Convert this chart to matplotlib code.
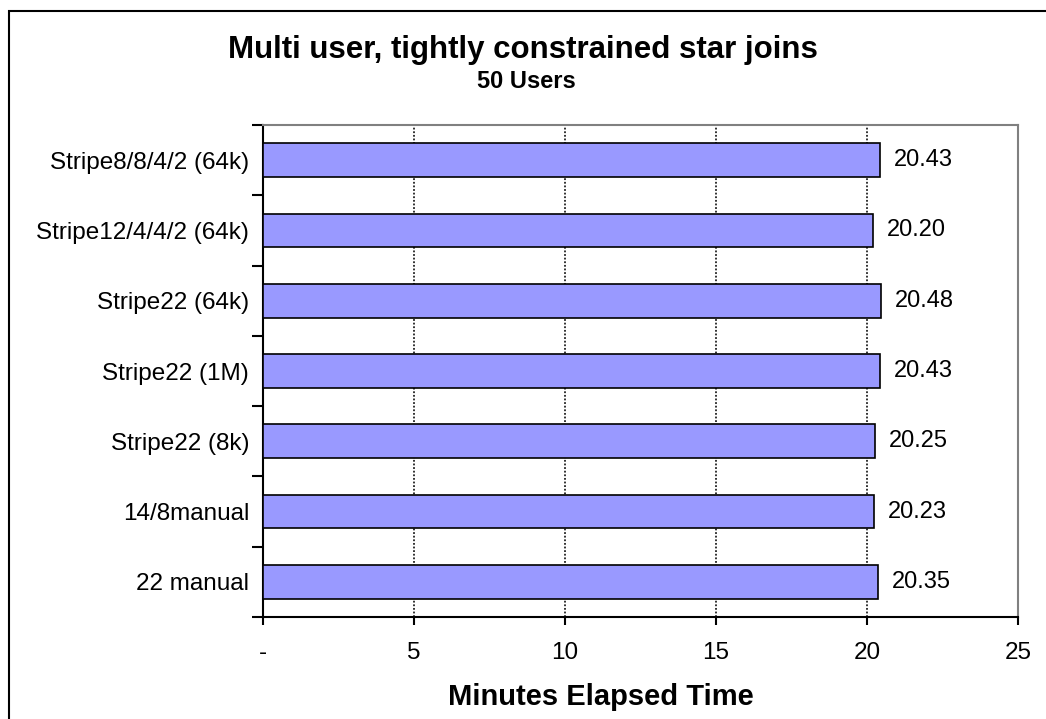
import matplotlib.pyplot as plt
from matplotlib.patches import Rectangle
import numpy as np

plt.rcParams['font.family'] = ['Liberation Sans', 'DejaVu Sans']

# data, top to bottom as in the chart
labels = ['Stripe8/8/4/2 (64k)', 'Stripe12/4/4/2 (64k)', 'Stripe22 (64k)',
          'Stripe22 (1M)', 'Stripe22 (8k)', '14/8manual', '22 manual']
minutes = [20.43, 20.20, 20.48, 20.43, 20.25, 20.23, 20.35]
xticks = [0, 5, 10, 15, 20, 25]
xtick_labels = ['-', '5', '10', '15', '20', '25']

fig = plt.figure(figsize=(10.46, 7.19), dpi=100)
ax = fig.add_axes([0.2514, 0.1419, 0.7218, 0.6842])

ypos = np.arange(len(labels))[::-1]
ax.barh(ypos, minutes, height=0.48, color='#9999ff', edgecolor='black',
        linewidth=1.2, zorder=3)
for y, v in zip(ypos, minutes):
    ax.annotate(f'{v:.2f}', (v, y), xytext=(10, 0), textcoords='offset points',
                va='center', ha='left', fontsize=17)

ax.set_xlim(0, 25)
ax.set_ylim(-0.5, len(labels) - 0.5)

ax.set_xticks(xticks)
ax.set_xticklabels(xtick_labels, fontsize=17.5)
ax.tick_params(axis='x', length=6, width=1.5, pad=12, direction='out')
ax.grid(axis='x', color='#222222', linestyle=(0, (1, 1)), linewidth=1.3, zorder=0)

ax.set_yticks(ypos)
ax.set_yticklabels(labels, fontsize=17.5)
ax.tick_params(axis='y', which='major', length=0, pad=10)
ax.set_yticks(np.arange(len(labels) + 1) - 0.5, minor=True)
ax.tick_params(axis='y', which='minor', length=8, width=1.5, direction='out')

for side in ['left', 'bottom']:
    ax.spines[side].set_color('black')
    ax.spines[side].set_linewidth(1.5)
for side in ['top', 'right']:
    ax.spines[side].set_color('#808080')
    ax.spines[side].set_linewidth(1.5)

fig.text(0.5746, 1 - 705 / 719, 'Minutes Elapsed Time', ha='center',
         va='baseline', fontsize=21, fontweight='bold')

fig.text(0.5, 1 - 58 / 719, 'Multi user, tightly constrained star joins',
         ha='center', va='baseline', fontsize=22.5, fontweight='bold')
fig.text(0.503, 1 - 88 / 719, '50 Users', ha='center', va='baseline',
         fontsize=17, fontweight='bold')

# outer chart frame
fig.patches.append(Rectangle((9 / 1046, -0.1), 1.2, 1.1 - 11 / 719,
                             transform=fig.transFigure, fill=False,
                             edgecolor='black', linewidth=1.5))

fig.savefig('out.png', dpi=100)
